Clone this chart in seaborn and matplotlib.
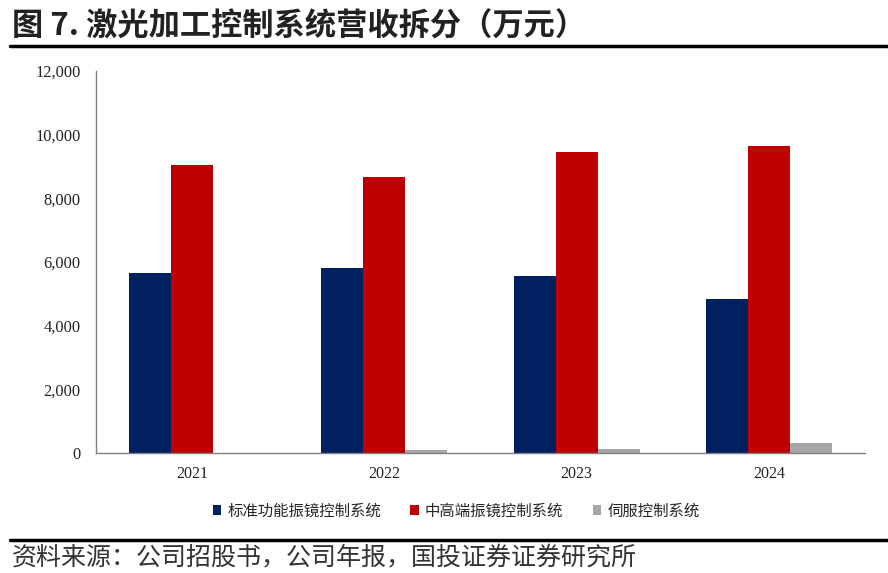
import matplotlib
matplotlib.use("Agg")
import matplotlib.pyplot as plt
import seaborn as sns
import pandas as pd
from matplotlib.ticker import FuncFormatter, FixedLocator

years = ["2021", "2022", "2023", "2024"]
series_names = ["标准功能振镜控制系统", "中高端振镜控制系统", "伺服控制系统"]
standard = [5650, 5810, 5560, 4840]
highend = [9050, 8670, 9460, 9650]
servo = [10, 85, 140, 310]
colors = ["#002060", "#C00000", "#A6A6A6"]

rows = []
for name, vals in zip(series_names, [standard, highend, servo]):
    for y, v in zip(years, vals):
        rows.append({"year": y, "series": name, "value": v})
df = pd.DataFrame(rows)

sns.set_theme(style="white")
plt.rcParams['font.family'] = ['Noto Sans CJK SC', 'DejaVu Sans']

fig = plt.figure(figsize=(8.88, 5.73), dpi=100)
ax = fig.add_axes([96/888, 1-453/573, (865-96)/888, (453-71)/573])

sns.barplot(data=df, x="year", y="value", hue="series", palette=colors,
            width=0.656, ax=ax, saturation=1, edgecolor="none", legend=True)

ax.set_ylim(0, 12000)
ax.set_xlim(-0.5, 3.5)
ax.set_yticks(range(0, 12001, 2000))
ax.yaxis.set_major_formatter(FuncFormatter(lambda v, p: f"{int(v):,}"))
ax.set_xlabel("")
ax.set_ylabel("")

for s in ["top", "right"]:
    ax.spines[s].set_visible(False)
for s in ["left", "bottom"]:
    ax.spines[s].set_color("#808080")
    ax.spines[s].set_linewidth(1.0)

ax.tick_params(axis="y", which="major", direction="out", length=5, color="#808080",
               labelsize=11.8, pad=6)
ax.tick_params(axis="x", which="major", length=0, labelsize=11.5, pad=9)
ax.xaxis.set_minor_locator(FixedLocator([-0.5, 0.5, 1.5, 2.5, 3.5]))
ax.tick_params(axis="x", which="minor", direction="out", length=5, color="#808080")
for lab in ax.get_yticklabels() + ax.get_xticklabels():
    lab.set_fontfamily("Liberation Serif")
    lab.set_color("#222222")

handles, labels = ax.get_legend_handles_labels()
if ax.legend_:
    ax.legend_.remove()
fig.legend(handles, labels, loc="center", bbox_to_anchor=(456/888, 1-511/573), ncol=3,
           frameon=False, handlelength=0.55, handleheight=0.55, handletextpad=0.4,
           columnspacing=1.9, prop={"family": ["Noto Sans CJK SC"], "size": 11.1})

fig.text(12/888, 1-27/573, "图 7. 激光加工控制系统营收拆分（万元）", fontsize=22.5,
         fontweight="bold", va="center", ha="left", color="#222222")
fig.add_artist(plt.Line2D([10/888, 1.0], [1-46/573, 1-46/573], color="black", lw=2.5))
fig.add_artist(plt.Line2D([10/888, 1.0], [1-540/573, 1-540/573], color="black", lw=2.5))
fig.text(12/888, 1-557/573, "资料来源：公司招股书，公司年报，国投证券证券研究所", fontsize=18,
         va="center", ha="left", color="#333333", style="italic")

fig.savefig("out.png", dpi=100)
